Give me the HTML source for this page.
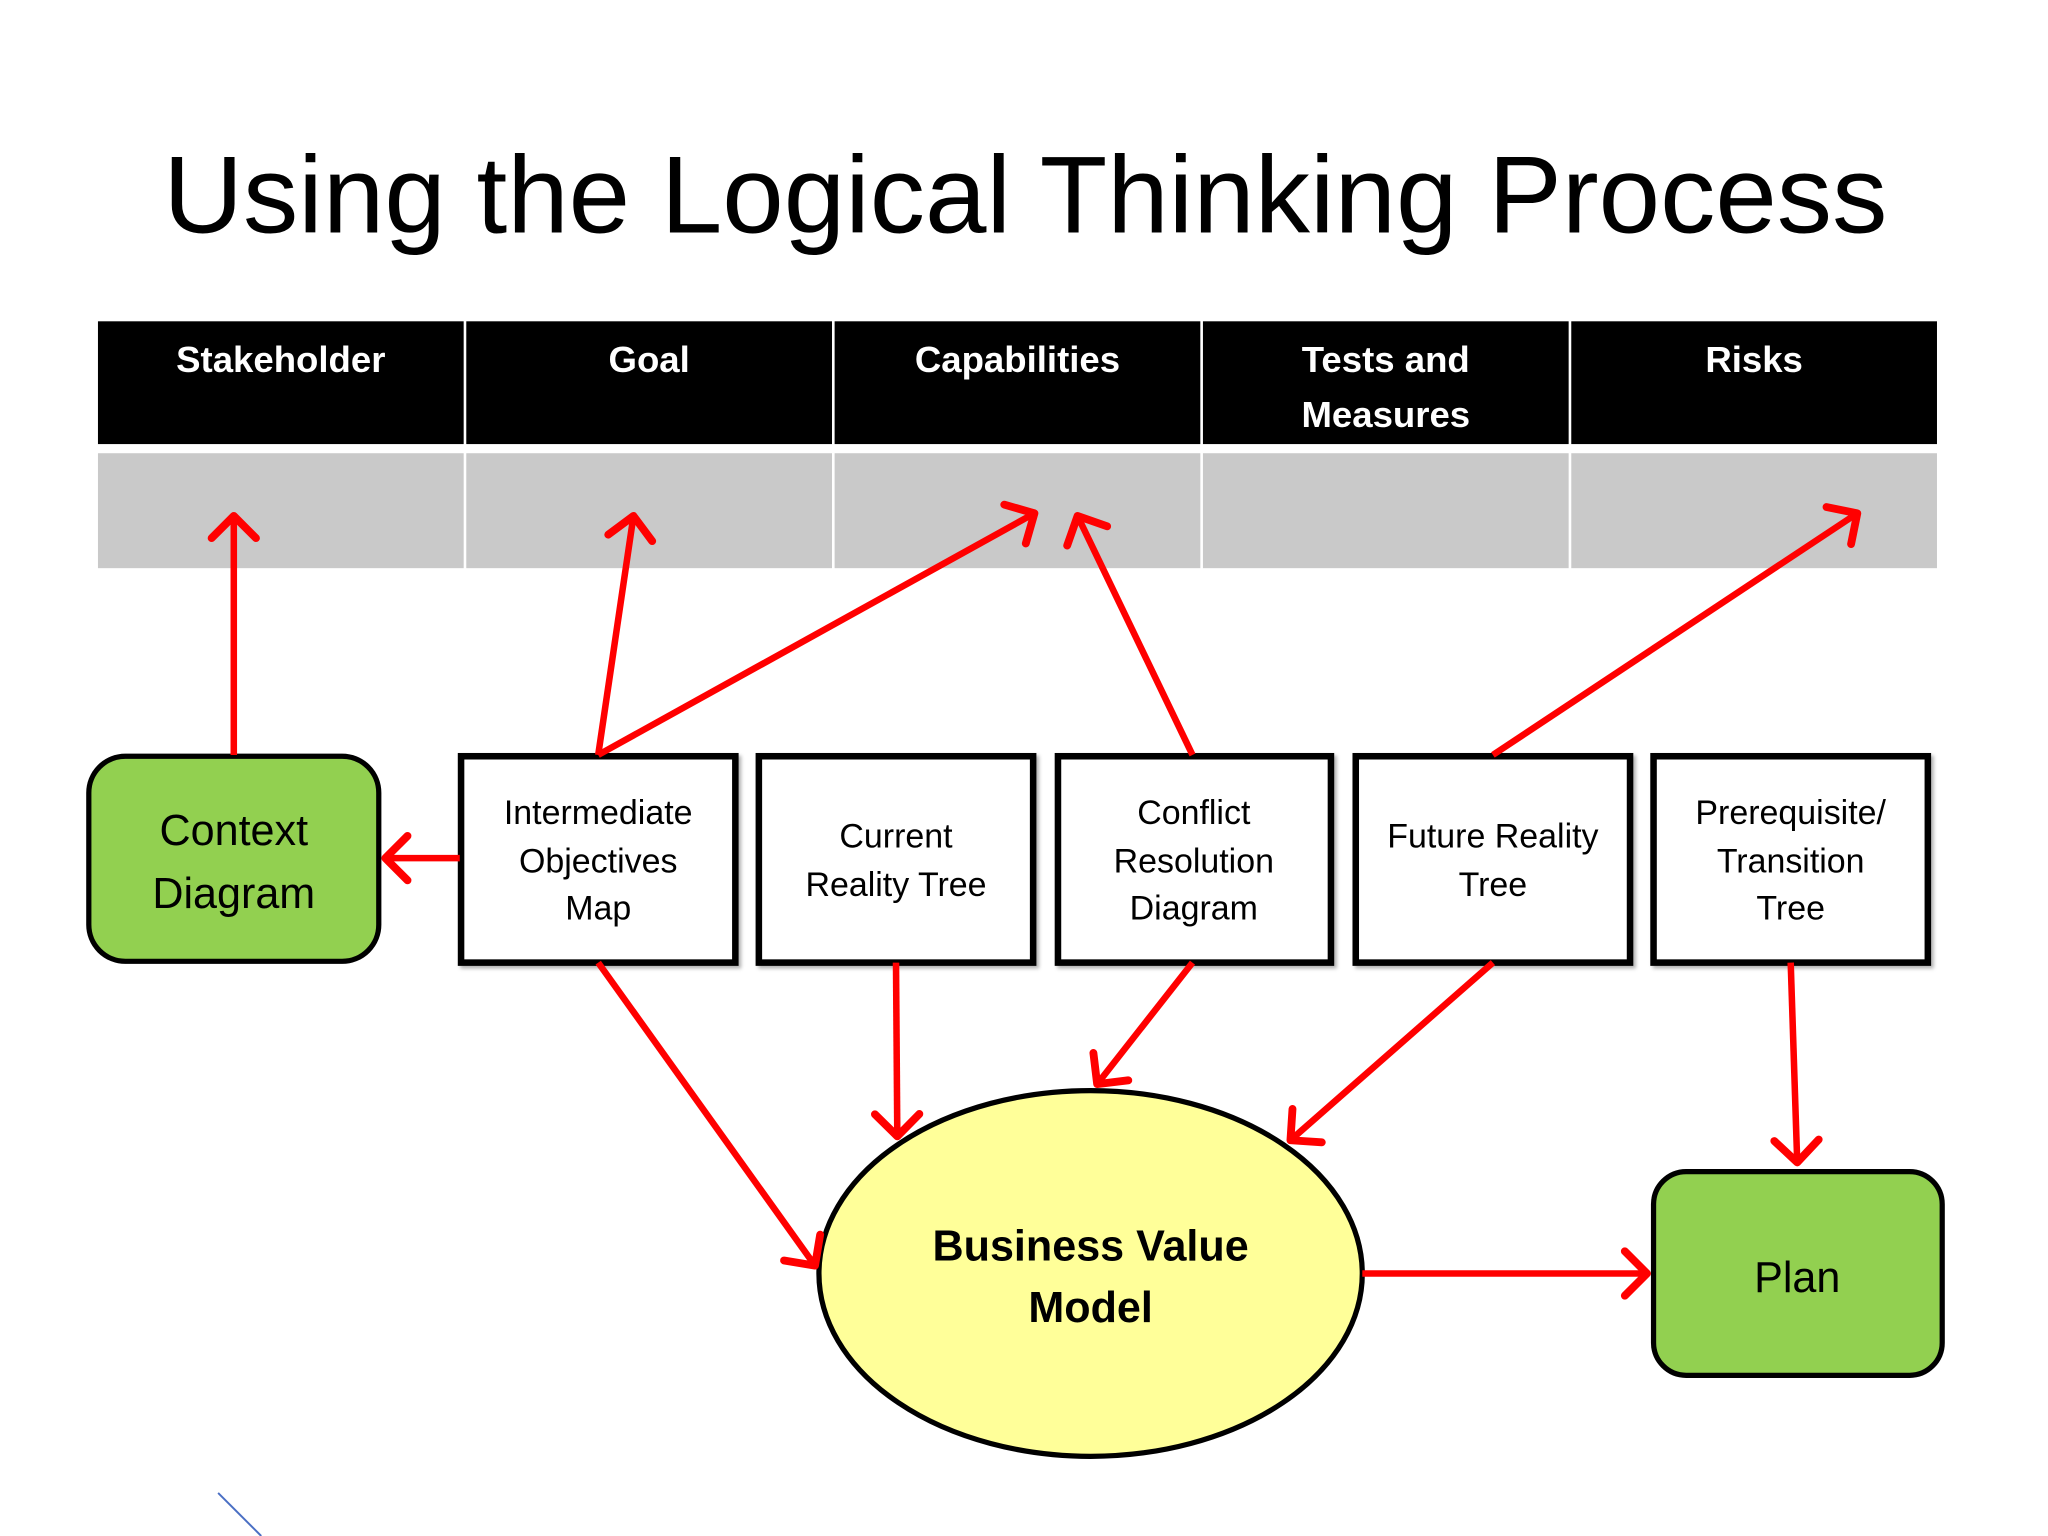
<!DOCTYPE html>
<html><head><meta charset="utf-8"><style>
html,body{margin:0;padding:0;background:#fff}
svg{display:block}
text{font-family:"Liberation Sans",sans-serif}
</style></head><body>
<svg width="2048" height="1536" viewBox="0 0 1568 1176" xmlns="http://www.w3.org/2000/svg">
<defs>
<marker id="a" markerUnits="userSpaceOnUse" markerWidth="50" markerHeight="50" refX="25" refY="25" orient="auto" viewBox="0 0 50 50">
<polyline points="8,8 25,25 8,42" fill="none" stroke="#f00" stroke-width="6" stroke-linecap="round" stroke-linejoin="round"/>
</marker>
<filter id="sh"><feDropShadow dx="2" dy="2" stdDeviation="1.5" flood-color="#000" flood-opacity="0.3"/></filter>
</defs>
<rect width="1568" height="1176" fill="#fff"/>
<text x="785" y="178" font-size="84" text-anchor="middle" fill="#000" textLength="1320" lengthAdjust="spacingAndGlyphs">Using the Logical Thinking Process</text>
<g fill="#000">
<rect x="75" y="246" width="280" height="94"/><rect x="357" y="246" width="280" height="94"/><rect x="639" y="246" width="280" height="94"/><rect x="921" y="246" width="280" height="94"/><rect x="1203" y="246" width="280" height="94"/>
</g>
<g fill="#c9c9c9">
<rect x="75" y="347" width="280" height="88"/><rect x="357" y="347" width="280" height="88"/><rect x="639" y="347" width="280" height="88"/><rect x="921" y="347" width="280" height="88"/><rect x="1203" y="347" width="280" height="88"/>
</g>
<g fill="#fff" font-size="28" font-weight="bold" text-anchor="middle">
<text x="215" y="285">Stakeholder</text><text x="497" y="285">Goal</text><text x="779" y="285">Capabilities</text><text x="1061" y="285">Tests and</text><text x="1061" y="327">Measures</text><text x="1343" y="285">Risks</text>
</g>
<rect x="68" y="579" width="222" height="157" rx="28" fill="#92d050" stroke="#000" stroke-width="4"/>
<rect x="1266" y="897" width="221" height="156" rx="25" fill="#92d050" stroke="#000" stroke-width="4"/>
<g fill="#fff" stroke="#000" stroke-width="5" filter="url(#sh)">
<rect x="353" y="579" width="210" height="158"/><rect x="581" y="579" width="210" height="158"/><rect x="810" y="579" width="209" height="158"/><rect x="1038" y="579" width="210" height="158"/><rect x="1266" y="579" width="210" height="158"/>
</g>
<ellipse cx="835" cy="975" rx="208" ry="140" fill="#ffff99" stroke="#000" stroke-width="4"/>
<g font-size="33" text-anchor="middle" fill="#000">
<text x="179" y="647">Context</text><text x="179" y="695">Diagram</text>
<text x="1376" y="989">Plan</text>
</g>
<g font-size="33" font-weight="bold" text-anchor="middle" fill="#000">
<text x="835" y="965">Business Value</text><text x="835" y="1012">Model</text>
</g>
<g font-size="26" text-anchor="middle" fill="#000">
<text x="458" y="631">Intermediate</text><text x="458" y="668">Objectives</text><text x="458" y="704">Map</text>
<text x="686" y="649">Current</text><text x="686" y="686">Reality Tree</text>
<text x="914" y="631">Conflict</text><text x="914" y="668">Resolution</text><text x="914" y="704">Diagram</text>
<text x="1143" y="649">Future Reality</text><text x="1143" y="686">Tree</text>
<text x="1371" y="631">Prerequisite/</text><text x="1371" y="668">Transition</text><text x="1371" y="704">Tree</text>
</g>
<g stroke="#f00" stroke-width="5" fill="none" marker-end="url(#a)">
<line x1="179" y1="578" x2="179" y2="395"/>
<line x1="458" y1="578" x2="485" y2="395"/>
<line x1="458" y1="578" x2="792" y2="393"/>
<line x1="913" y1="578" x2="825" y2="395"/>
<line x1="1143" y1="578" x2="1422" y2="393"/>
<line x1="352" y1="657" x2="295" y2="657"/>
<line x1="458" y1="737" x2="624" y2="969"/>
<line x1="686" y1="737" x2="687" y2="870"/>
<line x1="913" y1="737" x2="840" y2="830"/>
<line x1="1143" y1="737" x2="988" y2="873"/>
<line x1="1371" y1="737" x2="1376" y2="890"/>
<line x1="1043" y1="975" x2="1261" y2="975"/>
</g>
<line x1="167" y1="1143" x2="200" y2="1176" stroke="#4a6fc4" stroke-width="1.5"/>
</svg>
</body></html>
